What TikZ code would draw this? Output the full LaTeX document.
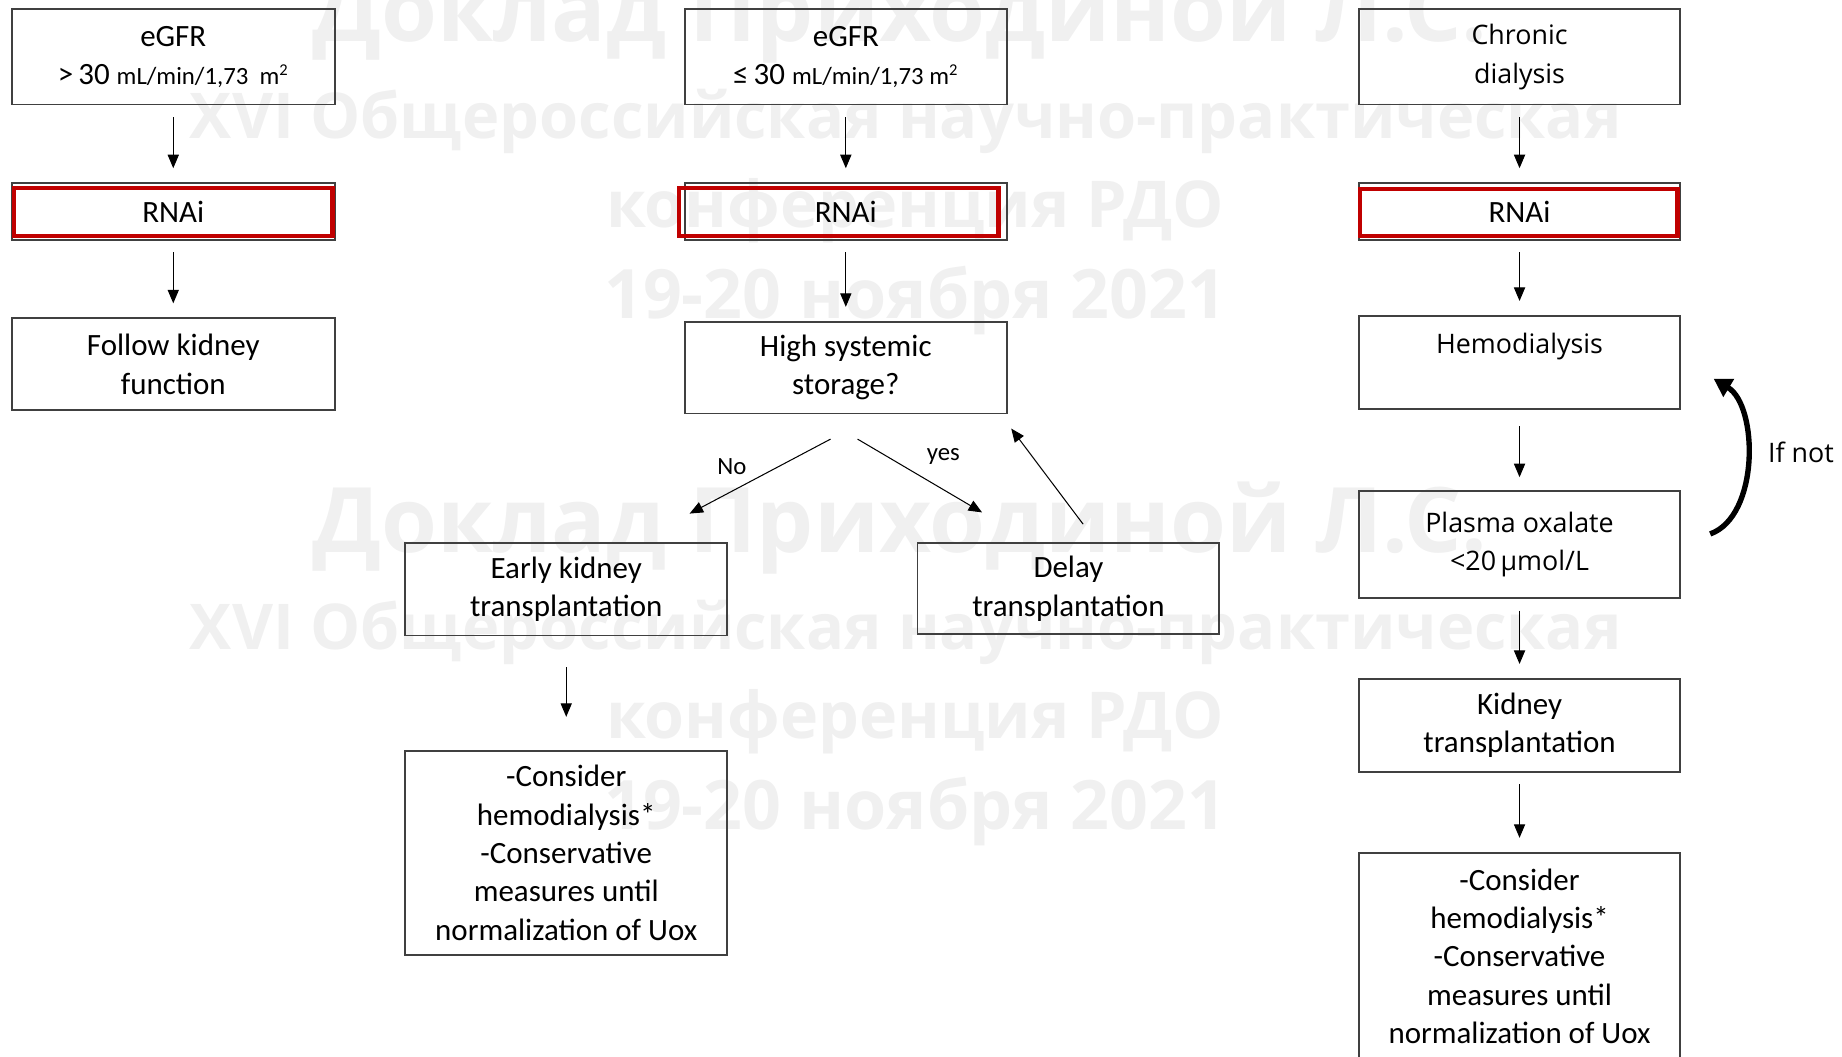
\documentclass[tikz,border=0pt]{standalone}
\usepackage{fontspec}
\setmainfont{Carlito}
\newfontfamily\lucfont{Open Sans}
\newfontfamily\wmfont{Open Sans}
\usepackage{tikz}
\usetikzlibrary{calc,arrows.meta}

\definecolor{boxgray}{HTML}{404040}
\definecolor{rnaired}{HTML}{C00000}
\definecolor{wmgray}{HTML}{F0F0F0}

\tikzset{
  box/.style={draw=boxgray, line width=0.9pt, align=center, inner sep=0pt,
    font=\fontsize{15}{18.6}\selectfont},
  lucbox/.style={box, font=\lucfont\fontsize{13}{18.6}\selectfont},
  redframe/.style={draw=rnaired, line width=2pt},
  arr/.style={-{Triangle[length=2.3mm,width=1.9mm]}, line width=0.5pt,
    shorten <=2mm, shorten >=2.4mm},
  wm/.style={text=wmgray, anchor=base, font=\wmfont\bfseries\fontsize{#1}{#1}\selectfont},
}

\begin{document}
\begin{tikzpicture}[x=0.2mm, y=-0.2mm]
\useasboundingbox (0,0) rectangle (1568,899);
\clip (0,0) rectangle (1568,899);

%watermark
\foreach \dy in {0,435}{
  \node[wm=43.8] (wmA) at (766,35+\dy) {Доклад Приходиной Л.С.};
  \node[wm=30.6] (wmB) at (771,118+\dy) {XVI Общероссийская научно-практическая};
  \node[wm=31.3] (wmC) at (779,194+\dy) {конференция РДО};
  \node[wm=33] (wmD) at (779,271+\dy) {19-20 ноября 2021};
}

%column 1
\node[box, minimum width=55mm, minimum height=16.2mm] (gfrA) at (147.5,48.5)
  {eGFR\\{\fontsize{15}{18}\selectfont >\,30} {\fontsize{12}{14}\selectfont mL/min/1,73~ m\textsuperscript{2}}};
\node[box, minimum width=55mm, minimum height=9.6mm] (rnaiA) at (147.5,180) {RNAi};
\draw[redframe] (12,160) rectangle (283,201);
\node[box, minimum width=55mm, minimum height=15.6mm] (followA) at (147.5,310) {Follow kidney\\function};

\draw[arr] (gfrA) -- (rnaiA);
\draw[arr] (rnaiA) -- (followA);

%column 2
\node[box, minimum width=54.8mm, minimum height=16.2mm] (gfrB) at (720,48.5)
  {eGFR\\{\fontsize{15}{18}\selectfont ≤\,30} {\fontsize{12}{14}\selectfont mL/min/1,73 m\textsuperscript{2}}};
\node[box, minimum width=54.8mm, minimum height=9.6mm] (rnaiB) at (720,180) {RNAi};
\draw[redframe] (578,160) rectangle (850,201);
\node[box, minimum width=54.8mm, minimum height=15.6mm] (storage) at (720,313) {High systemic\\storage?};
\node[box, minimum width=54.8mm, minimum height=15.8mm] (early) at (482,501.5) {Early kidney\\transplantation};
\node[box, minimum width=51.4mm, minimum height=15.6mm] (delay) at (909.5,501) {Delay\\transplantation};
\node[box, minimum width=54.8mm, minimum height=34.8mm] (uoxB) at (482,726)
  {-Consider\\hemodialysis*\\-Conservative\\measures until\\normalization of Uox};

\draw[arr] (gfrB) -- (rnaiB);
\draw[arr] (rnaiB) -- (storage);
\draw[arr, shorten <=0pt, shorten >=0pt] ($(storage.south)+(-13,21)$) -- ($(early.north)+(105,-24)$);
\draw[arr, shorten <=0pt, shorten >=0pt] ($(storage.south)+(10,21)$) -- ($(delay.north)+(-73.5,-25)$);
\draw[arr, shorten <=0pt, shorten >=0pt] ($(delay.north)+(12.5,-15)$) -- ($(storage.south east)+(3,12)$);
\draw[arr, shorten <=5.2mm, shorten >=5.6mm] (early) -- (uoxB);
\node[font=\fontsize{12}{14}\selectfont] (lblNo) at (623,397) {No};
\node[font=\fontsize{12}{14}\selectfont] (lblYes) at (803,389) {yes};

%column 3
\node[lucbox, minimum width=54.6mm, minimum height=16.2mm] (chronic) at (1293.5,48.5) {Chronic\\dialysis};
\node[box, minimum width=54.6mm, minimum height=9.6mm] (rnaiC) at (1293.5,180) {RNAi};
\draw[redframe] (1158,161) rectangle (1428,201);
\node[lucbox, minimum width=54.6mm, minimum height=15.8mm] (hemo) at (1293.5,308.5) {Hemodialysis\\\phantom{H}};
\node[lucbox, minimum width=54.6mm, minimum height=18.2mm] (plasma) at (1293.5,463.5) {Plasma oxalate\\<20\,µmol/L};
\node[box, minimum width=54.6mm, minimum height=15.8mm] (ktx) at (1293.5,617.5) {Kidney\\transplantation};
\node[box, minimum width=54.6mm, minimum height=35.2mm] (uoxC) at (1293.5,814)
  {-Consider\\hemodialysis*\\-Conservative\\measures until\\normalization of Uox};

\draw[arr] (chronic) -- (rnaiC);
\draw[arr] (rnaiC) -- (hemo);
\draw[arr, shorten <=2.8mm, shorten >=2.2mm] (hemo) -- (plasma);
\draw[arr] (plasma) -- (ktx);
\draw[arr] (ktx) -- (uoxC);

%loop back
\draw[line width=2.6pt, -{Triangle[length=3mm,width=3.4mm]}]
  ($(plasma.east)+(25,-9)$) .. controls +(42,-15) and +(38,23) .. ($(hemo.east)+(28,14)$);
\node[font=\lucfont\fontsize{13}{16}\selectfont] (lblIfnot) at (1533,385) {If not};
\end{tikzpicture}
\end{document}
